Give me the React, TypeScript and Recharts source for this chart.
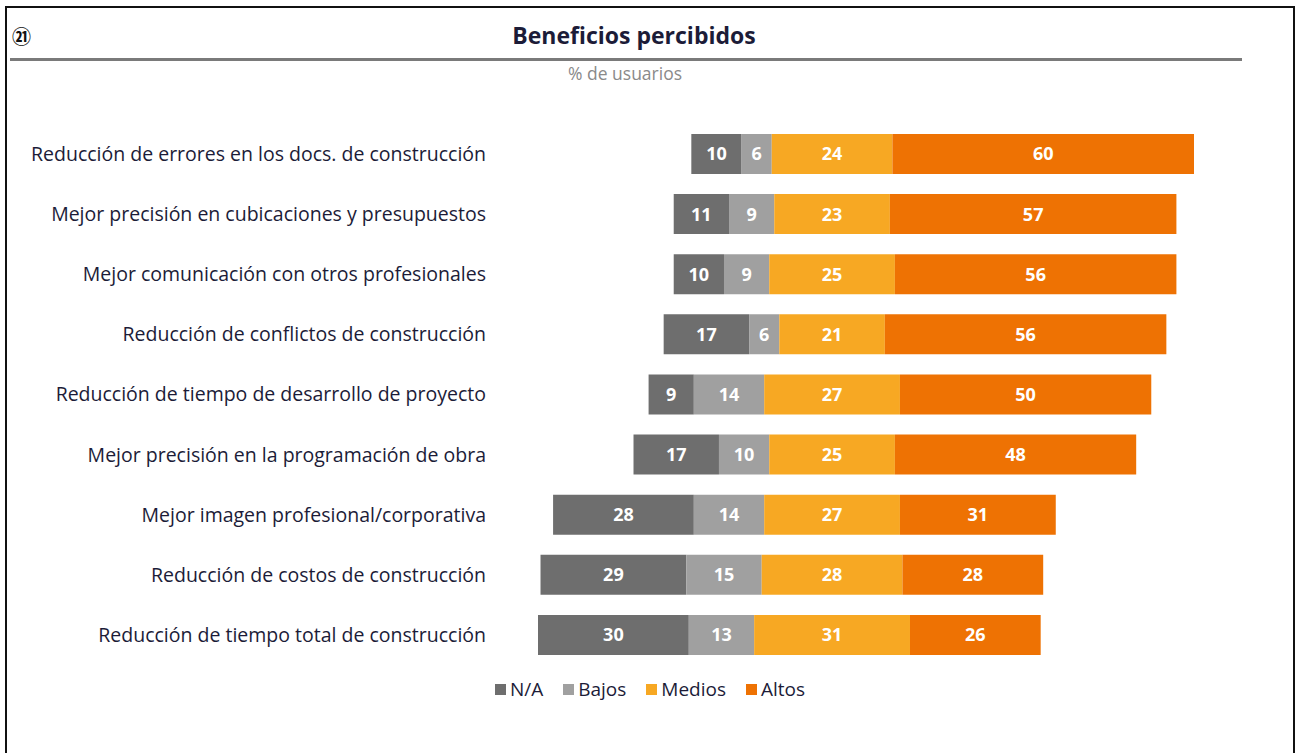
import { BarChart, Bar, XAxis, YAxis, Legend, LabelList } from "recharts";

const CATEGORIES = [
  "Reducción de errores en los docs. de construcción",
  "Mejor precisión en cubicaciones y presupuestos",
  "Mejor comunicación con otros profesionales",
  "Reducción de conflictos de construcción",
  "Reducción de tiempo de desarrollo de proyecto",
  "Mejor precisión en la programación de obra",
  "Mejor imagen profesional/corporativa",
  "Reducción de costos de construcción",
  "Reducción de tiempo total de construcción",
];

const NA = [10, 11, 10, 17, 9, 17, 28, 29, 30];
const BAJOS = [6, 9, 9, 6, 14, 10, 14, 15, 13];
const MEDIOS = [24, 23, 25, 21, 27, 25, 27, 28, 31];
const ALTOS = [60, 57, 56, 56, 50, 48, 31, 28, 26];

const SERIES = [
  { key: "na", name: "N/A", color: "#6e6e6e" },
  { key: "bajos", name: "Bajos", color: "#a0a0a0" },
  { key: "medios", name: "Medios", color: "#f7a823" },
  { key: "altos", name: "Altos", color: "#ee7203" },
];

const FONT = "'Open Sans', 'Noto Sans', sans-serif";
const INK = "#1c1c38";

// bars are lined up on the middle of the "Medios" segment
const centers = CATEGORIES.map((_, i) => NA[i] + BAJOS[i] + MEDIOS[i] / 2);
const maxCenter = Math.max(...centers);

const data = CATEGORIES.map((name, i) => ({
  name,
  offset: maxCenter - centers[i],
  na: NA[i],
  bajos: BAJOS[i],
  medios: MEDIOS[i],
  altos: ALTOS[i],
}));

function LegendContent() {
  return (
    <div style={{ display: "flex", justifyContent: "center", gap: 20, fontFamily: FONT, fontSize: 19, color: INK }}>
      {SERIES.map((s) => (
        <span key={s.key} style={{ display: "flex", alignItems: "center" }}>
          <span style={{ width: 11, height: 11, background: s.color, marginRight: 4, display: "inline-block" }} />
          {s.name}
        </span>
      ))}
    </div>
  );
}

export default function App() {
  return (
    <div style={{ position: "absolute", left: 0, top: 0, width: 1300, height: 753, background: "#fff", overflow: "hidden" }}>
      <div
        style={{
          position: "absolute", left: 5, top: 6, width: 1286, height: 760,
          border: "2px solid #111",
        }}
      />
      <div style={{ position: "absolute", left: 12, top: 22, fontFamily: "'Noto Sans CJK JP', sans-serif", fontSize: 19, fontWeight: 700, color: "#111" }}>
        ㉑
      </div>
      <div
        style={{
          position: "absolute", left: 0, width: 1268, top: 19, textAlign: "center",
          fontFamily: FONT, fontWeight: 700, fontSize: 23, color: INK,
        }}
      >
        Beneficios percibidos
      </div>
      <div style={{ position: "absolute", left: 10, top: 58, width: 1232, height: 2.5, background: "#7a7a7a" }} />
      <div
        style={{
          position: "absolute", left: 0, width: 1250, top: 61, textAlign: "center",
          fontFamily: FONT, fontSize: 17.5, color: "#8a8a8a",
        }}
      >
        % de usuarios
      </div>

      <div style={{ position: "absolute", left: 0, top: 1 }}>
        <BarChart
          width={1300}
          height={753}
          data={data}
          layout="vertical"
          margin={{ top: 123, right: 106, bottom: 63, left: 0 }}
          barSize={40}
        >
          <XAxis type="number" hide domain={[0, 130.5]} />
          <YAxis
            type="category"
            dataKey="name"
            width={538}
            axisLine={false}
            tickLine={false}
            tickMargin={46}
            tick={{ fill: INK, fontSize: 19.5, fontFamily: FONT }}
          />
          <Legend
            verticalAlign="bottom"
            content={<LegendContent />}
            wrapperStyle={{ top: 675, left: 0, width: 1300 }}
          />
          <Bar dataKey="offset" stackId="s" fill="transparent" legendType="none" isAnimationActive={false} />
          {SERIES.map((s) => (
            <Bar key={s.key} dataKey={s.key} name={s.name} stackId="s" fill={s.color} isAnimationActive={false}>
              <LabelList
                dataKey={s.key}
                position="center"
                fill="#fff"
                style={{ fontFamily: FONT, fontSize: 18, fontWeight: 700 }}
              />
            </Bar>
          ))}
        </BarChart>
      </div>
    </div>
  );
}
